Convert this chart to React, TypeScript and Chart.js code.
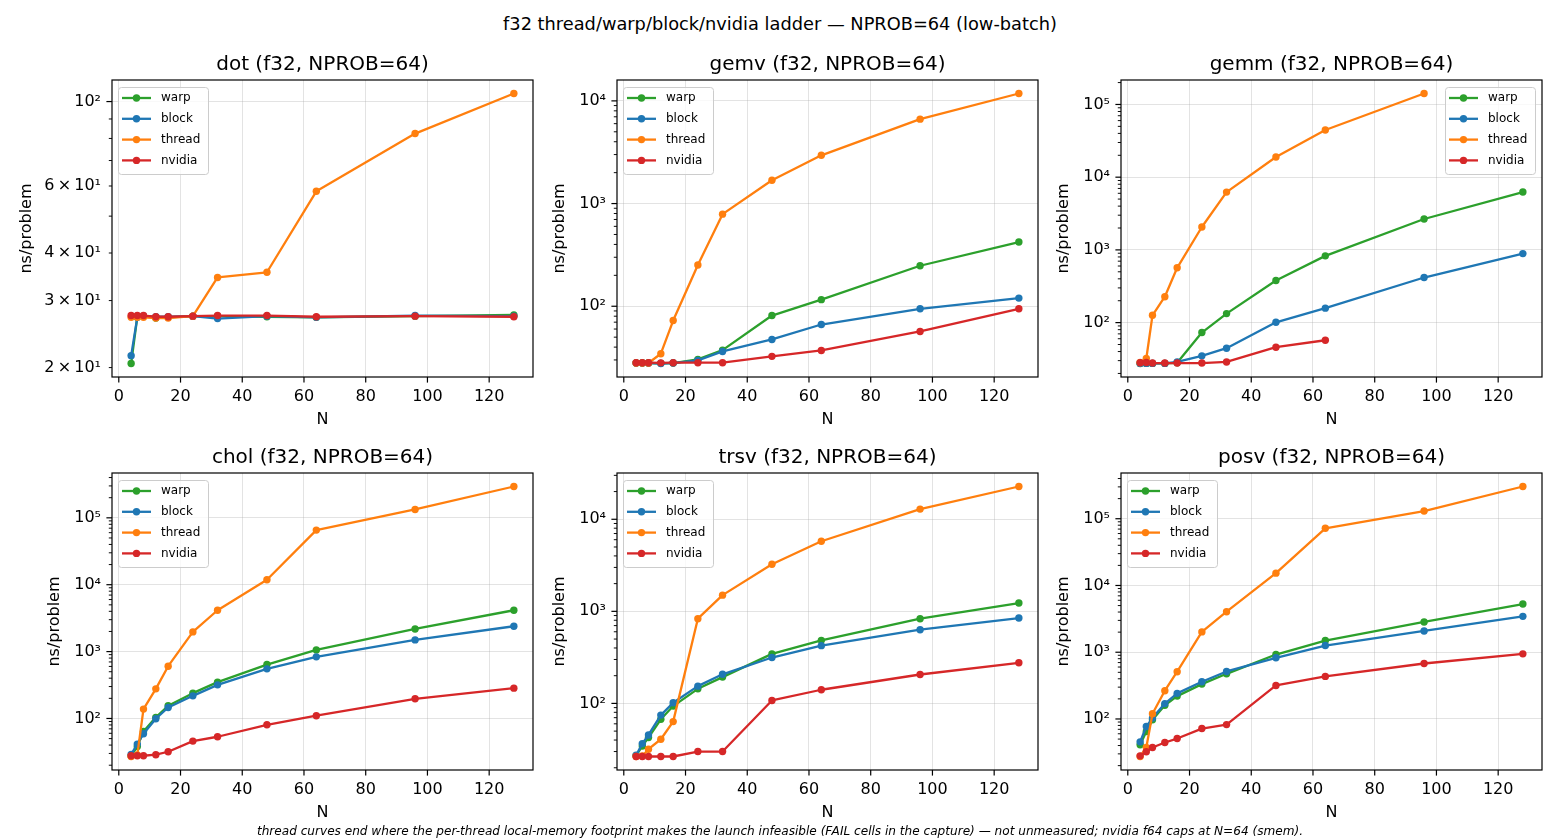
import React, { useEffect, useRef } from 'react';
import { Chart, registerables } from 'chart.js';

Chart.register(...registerables);

// ---------------- data ----------------
const N_VALUES = [4, 6, 8, 12, 16, 24, 32, 48, 64, 96, 128];
const X_TICKS = [0, 20, 40, 60, 80, 100, 120];
const SERIES_NAMES = ['warp', 'block', 'thread', 'nvidia'];
const SERIES_COLORS = ['#2ca02c', '#1f77b4', '#ff7f0e', '#d62728'];

const PANEL_TITLES = [
  'dot (f32, NPROB=64)',
  'gemv (f32, NPROB=64)',
  'gemm (f32, NPROB=64)',
  'chol (f32, NPROB=64)',
  'trsv (f32, NPROB=64)',
  'posv (f32, NPROB=64)',
];

const DOT_WARP = [20.5, 27.2, 27.3, 27.0, 27.1, 27.3, 27.3, 27.2, 27.1, 27.3, 27.5];
const DOT_BLOCK = [21.5, 27.1, 27.3, 27.2, 27.2, 27.3, 26.9, 27.3, 27.1, 27.4, 27.3];
const DOT_THREAD = [27.1, 27.1, 27.1, 27.0, 27.0, 27.3, 34.5, 35.6, 58.1, 82.4, 105];
const DOT_NVIDIA = [27.4, 27.4, 27.4, 27.2, 27.2, 27.3, 27.4, 27.4, 27.2, 27.3, 27.2];

const GEMV_WARP = [28, 28, 28, 27.8, 28, 30.4, 37.4, 81.2, 116, 248, 422];
const GEMV_BLOCK = [28, 28, 28, 27.7, 28, 29.7, 36.3, 47.5, 66.4, 94.4, 120];
const GEMV_THREAD = [28, 28, 28, 34.5, 72.6, 252, 789, 1687, 2951, 6640, 11800];
const GEMV_NVIDIA = [28.2, 28.2, 28.2, 28.1, 28.2, 28.2, 28.2, 32.5, 37.1, 56.8, 94.4];

const GEMM_WARP = [27.4, 27.5, 27.5, 27.5, 28, 73, 133, 380, 828, 2660, 6240];
const GEMM_BLOCK = [27.5, 27.5, 27.5, 27.5, 28.8, 34.9, 44.5, 101, 158, 417, 889];
const GEMM_THREAD = [28.3, 32.1, 126, 227, 567, 2065, 6230, 18970, 44500, 141500];
const GEMM_NVIDIA = [28, 28.3, 27.8, 27.8, 27.8, 27.8, 28.8, 45.9, 57.2];

const CHOL_WARP = [27.5, 38, 64, 104, 155, 239, 349, 640, 1060, 2180, 4150];
const CHOL_BLOCK = [29, 41.4, 59.1, 99, 146, 218, 318, 552, 834, 1496, 2393];
const CHOL_THREAD = [27, 28.5, 138, 277, 605, 1968, 4150, 11880, 65500, 133400, 294000];
const CHOL_NVIDIA = [27.7, 27.7, 27.7, 28.7, 31.8, 45.9, 53.3, 80.5, 110, 197, 284];

const TRSV_WARP = [27, 34.5, 42.6, 67.2, 93.5, 144, 193, 345, 484, 832, 1230];
const TRSV_BLOCK = [27.3, 36.6, 45.4, 74.6, 101.8, 154, 207, 315, 424, 632, 846];
const TRSV_THREAD = [26.5, 26.8, 31.8, 40.8, 63.4, 832, 1500, 3250, 5770, 12900, 22700];
const TRSV_NVIDIA = [26.5, 26.5, 26.5, 26.5, 26.5, 30, 30, 107.7, 140.7, 206, 276];

const POSV_WARP = [41, 65, 97, 160, 220, 333, 475, 923, 1495, 2840, 5270];
const POSV_BLOCK = [45.4, 77, 103, 170, 242, 361, 515, 825, 1259, 2085, 3447];
const POSV_THREAD = [27.4, 37.4, 120, 265, 510, 2015, 4050, 15300, 71900, 130300, 304000];
const POSV_NVIDIA = [28, 32.2, 37.3, 44.4, 50.9, 71.8, 82.4, 318, 434, 678, 946];

const DOT_MINOR_LABELS = [20, 30, 40, 60];

const SUPTITLE = 'f32 thread/warp/block/nvidia ladder \u2014 NPROB=64 (low-batch)';
const FOOTNOTE =
  'thread curves end where the per-thread local-memory footprint makes the launch infeasible (FAIL cells in the capture) \u2014 not unmeasured; nvidia f64 caps at N=64 (smem).';

// ---------------- layout / style ----------------
const FONT = "'DejaVu Sans', 'Liberation Sans', sans-serif";
const COL_LEFT = [112, 617, 1121];
const ROW_TOP = [80, 473];
const AX_W = 421;
const AX_H = 297;
const SIDE = 95;
const TOP_PAD = 35;
const BOTTOM_PAD = 55;

type PanelDef = {
  title: string;
  series: number[][];
  col: number;
  row: number;
  legendRight: boolean;
  yLabelGap: number;
  minorLabels: number[];
};

const PANELS: PanelDef[] = [
  { title: PANEL_TITLES[0], series: [DOT_WARP, DOT_BLOCK, DOT_THREAD, DOT_NVIDIA], col: 0, row: 0, legendRight: false, yLabelGap: 85, minorLabels: DOT_MINOR_LABELS },
  { title: PANEL_TITLES[1], series: [GEMV_WARP, GEMV_BLOCK, GEMV_THREAD, GEMV_NVIDIA], col: 1, row: 0, legendRight: false, yLabelGap: 57, minorLabels: [] },
  { title: PANEL_TITLES[2], series: [GEMM_WARP, GEMM_BLOCK, GEMM_THREAD, GEMM_NVIDIA], col: 2, row: 0, legendRight: true, yLabelGap: 57, minorLabels: [] },
  { title: PANEL_TITLES[3], series: [CHOL_WARP, CHOL_BLOCK, CHOL_THREAD, CHOL_NVIDIA], col: 0, row: 1, legendRight: false, yLabelGap: 57, minorLabels: [] },
  { title: PANEL_TITLES[4], series: [TRSV_WARP, TRSV_BLOCK, TRSV_THREAD, TRSV_NVIDIA], col: 1, row: 1, legendRight: false, yLabelGap: 57, minorLabels: [] },
  { title: PANEL_TITLES[5], series: [POSV_WARP, POSV_BLOCK, POSV_THREAD, POSV_NVIDIA], col: 2, row: 1, legendRight: false, yLabelGap: 57, minorLabels: [] },
];

const SUP: Record<string, string> = {
  '0': '\u2070', '1': '\u00b9', '2': '\u00b2', '3': '\u00b3', '4': '\u2074',
  '5': '\u2075', '6': '\u2076', '7': '\u2077', '8': '\u2078', '9': '\u2079', '-': '\u207b',
};
const sup = (n: number) => String(n).split('').map((c) => SUP[c] || c).join('');

function xRange() {
  const lo = Math.min(...N_VALUES);
  const hi = Math.max(...N_VALUES);
  const pad = (hi - lo) * 0.05;
  return [lo - pad, hi + pad];
}

function yRange(series: number[][]) {
  const all = series.flat();
  const lmin = Math.log10(Math.min(...all));
  const lmax = Math.log10(Math.max(...all));
  const pad = (lmax - lmin) * 0.05;
  return [Math.pow(10, lmin - pad), Math.pow(10, lmax + pad)];
}

function logTicks(min: number, max: number) {
  const out: { value: number; major: boolean; exp: number; m: number }[] = [];
  for (let k = Math.floor(Math.log10(min)); k <= Math.ceil(Math.log10(max)); k++) {
    for (let m = 1; m <= 9; m++) {
      const v = m * Math.pow(10, k);
      if (v >= min && v <= max) out.push({ value: v, major: m === 1, exp: k, m });
    }
  }
  return out;
}

function Panel({ p }: { p: PanelDef }) {
  const ref = useRef<HTMLCanvasElement>(null);
  const left = COL_LEFT[p.col] - SIDE;
  const top = ROW_TOP[p.row] - TOP_PAD;
  const width = AX_W + 2 * SIDE;
  const height = AX_H + TOP_PAD + BOTTOM_PAD;

  useEffect(() => {
    const [xmin, xmax] = xRange();
    const [ymin, ymax] = yRange(p.series);
    const yt = logTicks(ymin, ymax);
    const tickInfo = (v: number) => yt.find((t) => Math.abs(t.value - v) / v < 1e-9);

    const datasets = p.series.map((vals, i) => ({
      label: SERIES_NAMES[i],
      data: vals.map((y, j) => ({ x: N_VALUES[j], y })),
      yAxisID: 'y',
      borderColor: SERIES_COLORS[i],
      backgroundColor: SERIES_COLORS[i],
      pointBackgroundColor: SERIES_COLORS[i],
      pointBorderColor: SERIES_COLORS[i],
      pointBorderWidth: 0,
      pointRadius: 3.7,
      pointHoverRadius: 3.7,
      borderWidth: 2.3,
      borderJoinStyle: 'round' as const,
      tension: 0,
      order: SERIES_NAMES.length - 1 - i,
    }));

    const framePlugin = {
      id: 'mplFrame',
      afterDatasetsDraw(chart: any) {
        const { ctx, chartArea } = chart;
        const { left: L, top: T, right: R } = chartArea;
        const boxW = 90;
        const boxH = 87;
        const bx = p.legendRight ? R - 7 - boxW : L + 6;
        const by = T + 7;
        ctx.save();
        ctx.beginPath();
        if ((ctx as any).roundRect) (ctx as any).roundRect(bx + 0.5, by + 0.5, boxW, boxH, 3);
        else ctx.rect(bx + 0.5, by + 0.5, boxW, boxH);
        ctx.fillStyle = 'rgba(255,255,255,0.8)';
        ctx.fill();
        ctx.strokeStyle = '#cccccc';
        ctx.lineWidth = 1;
        ctx.stroke();
        SERIES_NAMES.forEach((name, i) => {
          const cy = by + 11 + i * 20.8;
          ctx.strokeStyle = SERIES_COLORS[i];
          ctx.lineWidth = 2.3;
          ctx.beginPath();
          ctx.moveTo(bx + 4, cy);
          ctx.lineTo(bx + 33, cy);
          ctx.stroke();
          ctx.fillStyle = SERIES_COLORS[i];
          ctx.beginPath();
          ctx.arc(bx + 18.5, cy, 3.7, 0, Math.PI * 2);
          ctx.fill();
          ctx.fillStyle = '#000';
          ctx.font = `12px ${FONT}`;
          ctx.textBaseline = 'middle';
          ctx.textAlign = 'left';
          ctx.fillText(name, bx + 43, cy);
        });
        ctx.restore();
      },
      afterDraw(chart: any) {
        const { ctx, chartArea, scales } = chart;
        const { left: L, top: T, right: R, bottom: B } = chartArea;
        ctx.save();
        ctx.strokeStyle = '#000';
        ctx.lineWidth = 1.2;
        ctx.strokeRect(L, T, R - L, B - T);
        X_TICKS.forEach((v) => {
          const px = scales.x.getPixelForValue(v);
          ctx.beginPath();
          ctx.moveTo(px, B);
          ctx.lineTo(px, B + 5.6);
          ctx.stroke();
        });
        yt.forEach((t) => {
          const py = scales.y.getPixelForValue(t.value);
          ctx.lineWidth = t.major ? 1.2 : 0.95;
          ctx.beginPath();
          ctx.moveTo(L, py);
          ctx.lineTo(L - (t.major ? 5.6 : 3.2), py);
          ctx.stroke();
        });
        ctx.restore();
      },
    };

    const tickFont = { family: FONT, size: 16, lineHeight: 1.2 };

    const chart = new Chart(ref.current as HTMLCanvasElement, {
      type: 'line',
      data: { datasets: datasets as any },
      options: {
        animation: false,
        responsive: true,
        maintainAspectRatio: false,
        events: [],
        layout: { padding: 0, autoPadding: false },
        plugins: {
          legend: { display: false },
          tooltip: { enabled: false },
          title: {
            display: true,
            text: p.title,
            color: '#000',
            font: { family: FONT, size: 20, weight: 'normal' as any, lineHeight: 1.2 },
            padding: { top: 8, bottom: 3 },
          },
        },
        scales: {
          x: {
            type: 'linear',
            min: xmin,
            max: xmax,
            afterBuildTicks: (s: any) => {
              s.ticks = X_TICKS.map((v) => ({ value: v }));
            },
            afterFit: (s: any) => {
              s.height = BOTTOM_PAD;
            },
            grid: { color: 'rgba(176,176,176,0.35)', lineWidth: 1, drawTicks: false },
            border: { display: false },
            ticks: {
              color: '#000',
              font: tickFont,
              padding: 9.8,
              maxRotation: 0,
              autoSkip: false,
              callback: (v: any) => String(v),
            },
            title: {
              display: true,
              text: 'N',
              color: '#000',
              font: tickFont,
              padding: { top: 0, bottom: 2.4 },
            },
          },
          y: {
            type: 'logarithmic',
            position: 'left',
            min: ymin,
            max: ymax,
            afterBuildTicks: (s: any) => {
              s.ticks = yt.map((t) => ({ value: t.value, major: t.major }));
            },
            afterFit: (s: any) => {
              s.width = SIDE;
            },
            grid: {
              color: (c: any) => {
                const t = c.tick ? tickInfo(c.tick.value) : undefined;
                return t && t.major ? 'rgba(176,176,176,0.35)' : 'rgba(0,0,0,0)';
              },
              lineWidth: 1,
              drawTicks: false,
            },
            border: { display: false },
            ticks: {
              color: '#000',
              font: tickFont,
              padding: 11,
              autoSkip: false,
              callback: (v: any) => {
                const t = tickInfo(Number(v));
                if (!t) return '';
                if (t.major) return '10' + sup(t.exp);
                if (p.minorLabels.some((m) => Math.abs(m - t.value) < 1e-6))
                  return `${t.m}\u2009\u00d7\u200910${sup(t.exp)}`;
                return '';
              },
            },
            title: {
              display: true,
              text: 'ns/problem',
              color: '#000',
              font: tickFont,
              padding: { top: SIDE - p.yLabelGap - 9.6, bottom: 0 },
            },
          },
          spacer: {
            type: 'linear',
            position: 'right',
            display: true,
            min: 0,
            max: 1,
            afterFit: (s: any) => {
              s.width = SIDE;
            },
            grid: { display: false, drawTicks: false },
            border: { display: false },
            ticks: { display: false },
            title: { display: false },
          },
        },
      },
      plugins: [framePlugin],
    } as any);
    return () => chart.destroy();
  }, []);

  return (
    <div style={{ position: 'absolute', left, top, width, height }}>
      <canvas ref={ref} />
    </div>
  );
}

export default function App() {
  return (
    <div
      style={{
        position: 'absolute',
        left: 0,
        top: 0,
        width: 1560,
        height: 840,
        background: '#fff',
        overflow: 'hidden',
        fontFamily: FONT,
      }}
    >
      <div
        style={{
          position: 'absolute',
          left: 0,
          top: 13,
          width: 1560,
          height: 22,
          lineHeight: '22px',
          textAlign: 'center',
          fontSize: 17.8,
          color: '#000',
        }}
      >
        {SUPTITLE}
      </div>
      {PANELS.map((p, i) => (
        <Panel key={i} p={p} />
      ))}
      <div
        style={{
          position: 'absolute',
          left: 0,
          top: 821,
          width: 1560,
          height: 20,
          lineHeight: '20px',
          textAlign: 'center',
          fontSize: 12.1,
          fontStyle: 'italic',
          color: '#000',
        }}
      >
        {FOOTNOTE}
      </div>
    </div>
  );
}
